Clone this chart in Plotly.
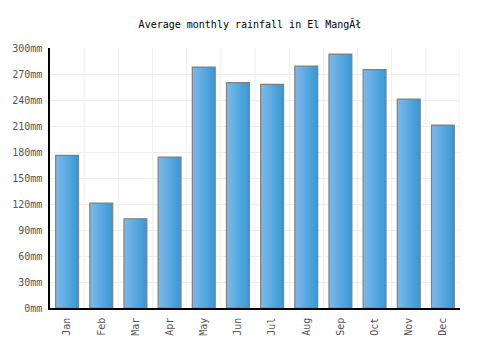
import plotly.graph_objects as go

months = ["Jan", "Feb", "Mar", "Apr", "May", "Jun", "Jul", "Aug", "Sep", "Oct", "Nov", "Dec"]
rainfall = [176, 121, 103, 174, 278, 260, 258, 279, 293, 275, 241, 211]
tick_vals = [0, 30, 60, 90, 120, 150, 180, 210, 240, 270, 300]
tick_text = [f"{v}mm" for v in tick_vals]
title = "Average monthly rainfall in El MangĂł"

FONT = "DejaVu Sans Mono"
bar_w = 0.67
n_slices = 12
c0 = (122, 184, 234)
c1 = (58, 154, 214)

fig = go.Figure()
slice_w = bar_w / n_slices
for i in range(n_slices):
    t = i / (n_slices - 1)
    col = tuple(round(a + (b - a) * t) for a, b in zip(c0, c1))
    w = slice_w if i == n_slices - 1 else slice_w * 1.8
    fig.add_trace(go.Bar(
        x=months, y=rainfall,
        width=w, offset=-bar_w / 2 + i * slice_w,
        marker=dict(color=f"rgb{col}", line=dict(width=0)),
        hoverinfo="skip", showlegend=False,
    ))
fig.add_trace(go.Bar(
    x=months, y=rainfall, width=bar_w, offset=-bar_w / 2,
    marker=dict(color="rgba(0,0,0,0)", line=dict(color="#808080", width=1.2)),
    showlegend=False,
))

fig.update_layout(
    width=500, height=350,
    margin=dict(l=40, r=40, t=48, b=42),
    barmode="overlay",
    paper_bgcolor="white", plot_bgcolor="white",
    title=dict(text=title, x=0.5, xanchor="center", y=0.93, yanchor="middle",
               font=dict(family=FONT, size=10, color="#000")),
    font=dict(family=FONT, size=10, color="#555"),
    xaxis=dict(
        type="category", tickangle=-90, showgrid=False,
        showline=True, linecolor="#000", linewidth=1.5,
        ticks="", tickfont=dict(family=FONT, size=10, color="#555"),
        range=[-0.5, 11.5], ticklabelstandoff=4,
    ),
    yaxis=dict(
        range=[0, 300], tickvals=tick_vals, ticktext=tick_text,
        showgrid=True, gridcolor="#eeeeee", gridwidth=1,
        showline=True, linecolor="#000", linewidth=1.5,
        ticks="", tickfont=dict(family=FONT, size=10, color="#555"),
        zeroline=False, ticklabelstandoff=4,
    ),
)
# vertical category-boundary gridlines
for k in range(1, 13):
    fig.add_vline(x=k - 0.5, line=dict(color="#eeeeee", width=1), layer="below")

fig.write_html("out.html")
